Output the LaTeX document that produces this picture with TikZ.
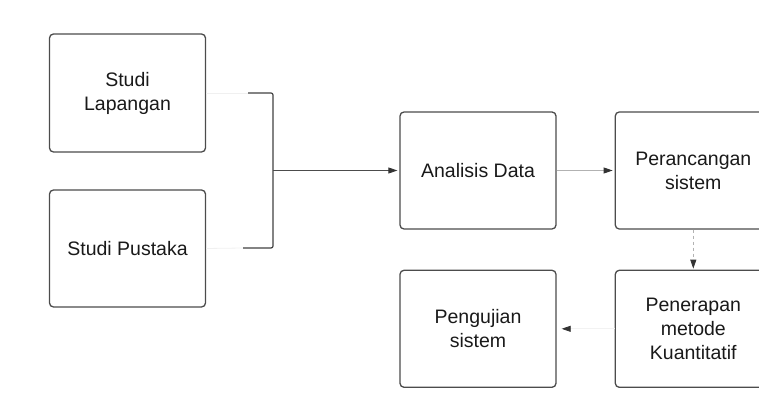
\documentclass[tikz,border=0pt]{standalone}
\usepackage{fontspec}
\setmainfont{Liberation Sans}
\usetikzlibrary{arrows.meta, positioning}

\begin{document}
\begin{tikzpicture}[
  x=1pt, y=1pt,
  box/.style = {draw=black!70, line width=1.3pt, rounded corners=4pt,
    minimum width=156pt, minimum height=117pt, align=center,
    font=\fontsize{19.5}{24}\selectfont, text=black!90},
  arrow/.style = {draw=black!30, line width=0.8pt,
    -{Triangle[length=9pt,width=6pt,fill=black!80,color=black!80]}, shorten >=2pt},
  link/.style = {draw=black!75, line width=1.2pt, rounded corners=2pt},
  node distance=40pt and 58pt
]
  \useasboundingbox (0,0) rectangle (759,401);

  % Studi
  \node[box, minimum height=118pt] (lapangan) at (127.5,308) {Studi\\Lapangan};
  \node[box] (pustaka) at (127.5,152.5) {Studi Pustaka};

  % bracket
  \coordinate (btop) at (248,308);
  \coordinate (bbot) at (243,153);
  \coordinate (bmid) at (273,230.5);
  \draw[black!6, line width=0.8pt] (lapangan.east) -- (btop);
  \draw[black!6, line width=0.8pt] (pustaka.east) -- (bbot);
  \draw[link] (btop) -- (bmid |- btop) -- (bmid |- bbot) -- (bbot);

  % proses
  \node[box] (analisis) at (478,230.5) {Analisis Data};
  \node[box, right=of analisis] (rancang) {Perancangan\\sistem};
  \node[box, below=of rancang] (terap) {Penerapan\\metode\\Kuantitatif};
  \node[box, below=of analisis] (uji) {Pengujian\\sistem};

  \draw[arrow, draw=black!70] (bmid) -- (analisis.west);
  \draw[arrow] (analisis) -- (rancang);
  \draw[arrow, dashed, shorten >=1pt] (rancang) -- (terap);
  \draw[arrow, draw=black!5, shorten >=5pt] (terap) -- (uji);

\end{tikzpicture}
\end{document}
